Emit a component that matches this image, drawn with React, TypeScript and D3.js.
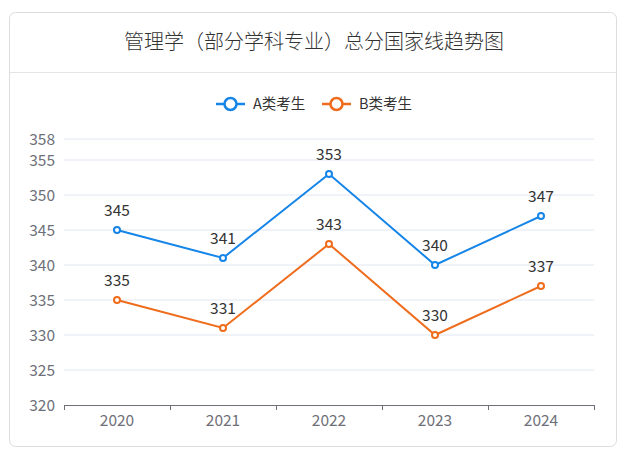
import React from "react";
import * as d3 from "d3";

const title = "管理学（部分学科专业）总分国家线趋势图";
const years = ["2020", "2021", "2022", "2023", "2024"];
const seriesA = [345, 341, 353, 340, 347];
const seriesB = [335, 331, 343, 330, 337];
const seriesNames = ["A类考生", "B类考生"];
const yTicks = [320, 325, 330, 335, 340, 345, 350, 355, 358];
const colors = ["#1585e8", "#ee6c1c"];

const FONT = "'Noto Sans CJK SC', 'Noto Sans', sans-serif";

export default function App() {
  const W = 626, H = 451;
  const left = 64, right = 594, top = 139, bottom = 405;
  const x = d3.scaleBand<string>().domain(years).range([left, right]);
  const y = d3.scaleLinear().domain([320, 358]).range([bottom, top]);
  const line = d3
    .line<number>()
    .x((_, i) => (x(years[i]) as number) + x.bandwidth() / 2)
    .y((d) => y(d));
  const series = [seriesA, seriesB];
  const boundaries = years.map((yr) => x(yr) as number).concat([right]);

  return (
    <svg
      width={W}
      height={H}
      style={{ position: "absolute", left: 0, top: 0, fontFamily: FONT }}
    >
      <rect x={9.5} y={12.5} width={607} height={434} rx={6} fill="#fff" stroke="#dcdcdc" />
      <text x={314} y={49} textAnchor="middle" fontSize={20} fill="#333" fontWeight={300}>
        {title}
      </text>
      <line x1={10} x2={616} y1={72.5} y2={72.5} stroke="#e4e4e4" />

      {/* legend */}
      {seriesNames.map((n, i) => {
        const lx = i === 0 ? 216 : 322;
        return (
          <g key={n}>
            <line x1={lx} x2={lx + 29} y1={104} y2={104} stroke={colors[i]} strokeWidth={2.5} />
            <circle cx={lx + 14.5} cy={104} r={6} fill="#fff" stroke={colors[i]} strokeWidth={2.5} />
            <text x={lx + 37} y={109} fontSize={14.5} fill="#333">
              {n}
            </text>
          </g>
        );
      })}

      {/* grid */}
      {yTicks.map((t) => (
        <g key={t}>
          {t !== 320 && (
            <line x1={left} x2={right} y1={y(t)} y2={y(t)} stroke="#E0E6F1" />
          )}
          <text x={55} y={y(t) + 5.5} textAnchor="end" fontSize={15.5} fill="#6E7079">
            {t}
          </text>
        </g>
      ))}

      {/* x axis */}
      <line x1={left} x2={right} y1={bottom + 0.5} y2={bottom + 0.5} stroke="#6E7079" />
      {boundaries.map((b, i) => (
        <line key={i} x1={b + 0.5} x2={b + 0.5} y1={bottom} y2={bottom + 5} stroke="#6E7079" />
      ))}
      {years.map((yr) => (
        <text
          key={yr}
          x={(x(yr) as number) + x.bandwidth() / 2}
          y={bottom + 21}
          textAnchor="middle"
          fontSize={15.5}
          fill="#6E7079"
        >
          {yr}
        </text>
      ))}

      {series.map((s, si) => (
        <g key={si}>
          <path d={line(s) || ""} fill="none" stroke={colors[si]} strokeWidth={2} />
          {s.map((v, i) => {
            const cx = (x(years[i]) as number) + x.bandwidth() / 2;
            return (
              <g key={i}>
                <circle cx={cx} cy={y(v)} r={3} fill="#fff" stroke={colors[si]} strokeWidth={2} />
                <text x={cx} y={y(v) - 14} textAnchor="middle" fontSize={15.5} fill="#333">
                  {v}
                </text>
              </g>
            );
          })}
        </g>
      ))}
    </svg>
  );
}
